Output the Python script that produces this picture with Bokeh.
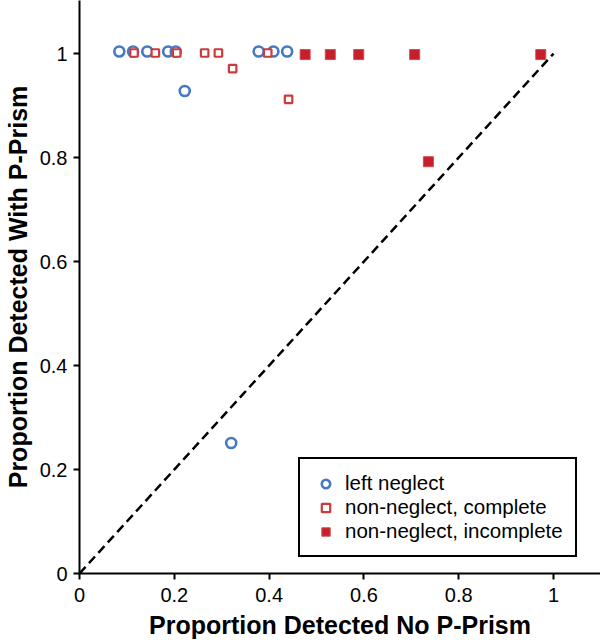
from bokeh.plotting import figure
from bokeh.models import Range1d, Legend, LegendItem, FixedTicker
from bokeh.embed import file_html
from bokeh.resources import INLINE

# ---- data ----
left_neglect_x = [0.084, 0.113, 0.143, 0.187, 0.203, 0.378, 0.409, 0.438, 0.222, 0.320]
left_neglect_y = [1.004, 1.004, 1.004, 1.004, 1.004, 1.004, 1.004, 1.004, 0.928, 0.251]

complete_x = [0.115, 0.160, 0.205, 0.264, 0.293, 0.397, 0.323, 0.441]
complete_y = [1.001, 1.001, 1.001, 1.001, 1.001, 1.001, 0.971, 0.912]

incomplete_x = [0.476, 0.529, 0.589, 0.707, 0.973, 0.736]
incomplete_y = [0.998, 0.998, 0.998, 0.998, 0.998, 0.792]

diag_x = [0, 1]
diag_y = [0, 1]

ticks = [0, 0.2, 0.4, 0.6, 0.8, 1]
tick_labels = {0: "0", 0.2: "0.2", 0.4: "0.4", 0.6: "0.6", 0.8: "0.8", 1: "1"}

FONT = "Liberation Sans"

p = figure(width=600, height=644, output_backend="svg", toolbar_location=None,
           x_range=Range1d(0, 1.099), y_range=Range1d(0, 1.102),
           min_border_left=78, min_border_bottom=71, min_border_right=0, min_border_top=0)
p.outline_line_color = None
p.xgrid.visible = False
p.ygrid.visible = False

for ax in (p.xaxis, p.yaxis):
    ax.ticker = FixedTicker(ticks=ticks)
    ax.major_label_overrides = tick_labels
    ax.axis_line_color = "black"
    ax.axis_line_width = 2
    ax.major_tick_line_color = "black"
    ax.major_tick_line_width = 2
    ax.major_tick_in = 0
    ax.major_tick_out = 6
    ax.minor_tick_line_color = None
    ax.major_label_text_font = FONT
    ax.major_label_text_font_size = "20px"
    ax.major_label_text_color = "black"
    ax.axis_label_text_font = FONT
    ax.axis_label_text_font_size = "25px"
    ax.axis_label_text_font_style = "bold"
    ax.axis_label_text_color = "black"

p.xaxis.major_label_standoff = 8
p.xaxis.axis_label_standoff = 6
p.yaxis.major_label_standoff = 6
p.yaxis.axis_label_standoff = 5

p.xaxis.axis_label = "Proportion Detected No P-Prism"
p.yaxis.axis_label = "Proportion Detected With P-Prism"

p.line(diag_x, diag_y, line_color="black", line_width=2.5, line_dash="9 5")

r1 = p.scatter(left_neglect_x, left_neglect_y, marker="circle", size=10,
               fill_color="white", fill_alpha=0, line_color="#4679c2", line_width=2.6)
r2 = p.scatter(complete_x, complete_y, marker="square", size=7.5,
               fill_color="white", line_color="#cc3b3b", line_width=2.2)
r3 = p.scatter(incomplete_x, incomplete_y, marker="square", size=10,
               fill_color="#c41f2a", line_color="#d24a50", line_width=1)

legend = Legend(items=[
    LegendItem(label="left neglect", renderers=[r1]),
    LegendItem(label="non-neglect, complete", renderers=[r2]),
    LegendItem(label="non-neglect, incomplete", renderers=[r3]),
], location=(219, 16))
legend.label_text_font = FONT
legend.label_text_font_size = "20.5px"
legend.label_text_color = "black"
legend.border_line_color = "black"
legend.border_line_alpha = 1
legend.border_line_width = 2
legend.background_fill_color = "white"
legend.background_fill_alpha = 1
legend.padding = 12
legend.glyph_width = 27
legend.glyph_height = 21
legend.label_height = 21
legend.label_standoff = 6
legend.spacing = 0
legend.margin = 0
p.add_layout(legend, "center")

open("out.html", "w").write(file_html(p, INLINE))
